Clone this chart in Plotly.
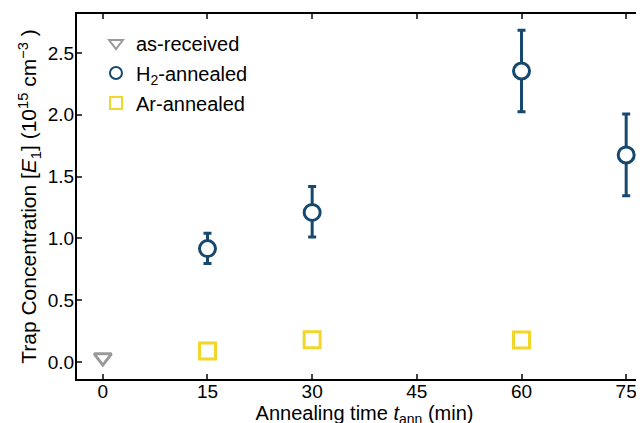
import plotly.graph_objects as go

# Data
t_asrec = [0]
c_asrec = [0.035]

t_h2 = [15, 30, 60, 75]
c_h2 = [0.917, 1.21, 2.354, 1.675]
err_h2_plus = [0.125, 0.21, 0.33, 0.33]
err_h2_minus = [0.12, 0.20, 0.33, 0.33]

t_ar = [15, 30, 60]
c_ar = [0.089, 0.18, 0.178]

x_ticks = [0, 15, 30, 45, 60, 75]
y_ticks = [0.0, 0.5, 1.0, 1.5, 2.0, 2.5]

BLUE = "#17486f"
YELLOW = "#f2d629"
GRAY = "#9a9a9a"
FONT = "Liberation Sans, Arial, sans-serif"

fig = go.Figure()
fig.add_trace(go.Scatter(
    x=t_asrec, y=c_asrec, mode="markers", name="as-received", legendgroup="a",
    marker=dict(symbol="triangle-down-open", size=15, color=GRAY, line=dict(width=3, color=GRAY)),
))
fig.add_trace(go.Scatter(
    x=t_h2, y=c_h2, mode="markers", name="H<sub>2</sub>-annealed", legendgroup="b",
    marker=dict(symbol="circle", size=16, color="white", line=dict(width=3, color=BLUE)),
    error_y=dict(type="data", array=err_h2_plus, arrayminus=err_h2_minus,
                 color=BLUE, thickness=3, width=4),
))
fig.add_trace(go.Scatter(
    x=t_ar, y=c_ar, mode="markers", name="Ar-annealed", legendgroup="c",
    marker=dict(symbol="square-open", size=16, color=YELLOW, line=dict(width=3, color=YELLOW)),
))
# invisible trace for top axis ticks
fig.add_trace(go.Scatter(x=t_h2, y=c_h2, xaxis="x2", mode="markers",
                         marker=dict(opacity=0), showlegend=False, hoverinfo="skip"))

X_RANGE = [-3.7, 78.7]

fig.update_layout(
    width=644, height=423,
    margin=dict(l=69, r=0, t=6, b=52),
    plot_bgcolor="white", paper_bgcolor="white",
    font=dict(family=FONT, size=20, color="black"),
    showlegend=True,
    legend=dict(x=0.033, y=0.974, xanchor="left", yanchor="top",
                bgcolor="rgba(0,0,0,0)", font=dict(size=20),
                tracegroupgap=1, itemsizing="constant"),
    xaxis=dict(range=X_RANGE, tickvals=x_ticks, ticks="inside", ticklen=5,
               tickwidth=2, showline=True, linewidth=2, linecolor="black",
               showgrid=False, zeroline=False, automargin=False,
               tickfont=dict(size=19), ticklabelstandoff=-6,
               title=dict(text="Annealing time <i>t</i><sub>ann</sub> (min)", standoff=4,
                          font=dict(size=20))),
    xaxis2=dict(range=X_RANGE, tickvals=x_ticks, overlaying="x", side="top",
                ticks="inside", ticklen=5, tickwidth=2, showticklabels=False, automargin=False,
                showline=True, linewidth=2, linecolor="black", showgrid=False, zeroline=False),
    yaxis=dict(range=[-0.138, 2.815], tickvals=y_ticks, ticktext=[f"{v:.1f}" for v in y_ticks],
               ticks="inside", ticklen=5, tickwidth=2, showline=True, linewidth=2,
               linecolor="black", showgrid=False, zeroline=False, automargin=False,
               tickfont=dict(size=19), ticklabelstandoff=-3,
               title=dict(text="Trap Concentration [<i>E</i><sub>1</sub>] (10<sup>15</sup> cm<sup>−3</sup> )",
                          standoff=5, font=dict(size=21))),
)

fig.write_html("out.html")
